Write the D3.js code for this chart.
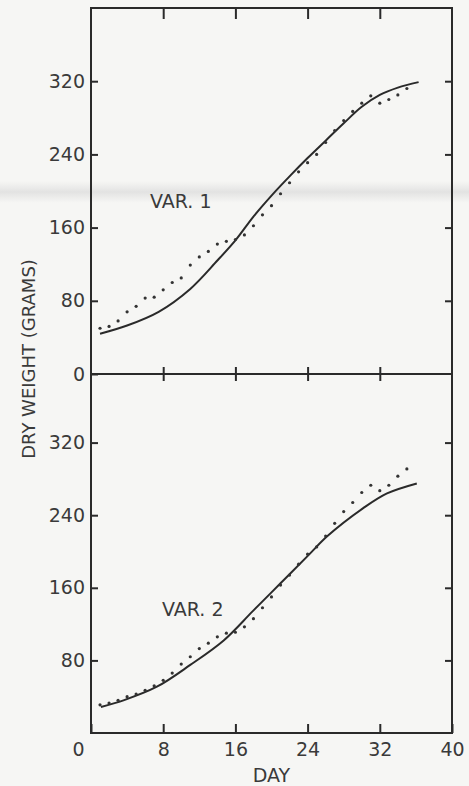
<!DOCTYPE html>
<html><head><meta charset="utf-8">
<script src="https://cdn.jsdelivr.net/npm/d3@7"></script>
<style>
body{margin:0;background:#f6f6f4;}
svg{display:block;}
text{font-family:"DejaVu Sans",Arial,sans-serif;fill:#3a3a3a;}
</style>
</head><body>
<svg id="c" width="469" height="786"></svg>
<script>
// ---- data ----
const dotDays = [1,2,3,4,5,6,7,8,9,10,11,12,13,14,15,16,17,18,19,20,21,22,23,24,25,26,27,28,29,30,31,32,33,34,35];
const var1Dots = [50,52,58,68,74,83,84,92,100,105,119,128,134,142,145,147,152,162,174,184,197,209,221,231,240,253,266,277,287,296,304,296,300,305,312];
const var2Dots = [31,33,36,40,43,47,52,58,66,76,84,93,99,106,110,111,117,126,138,150,163,174,186,197,205,217,231,244,254,265,273,267,273,283,291];
const var1CurveDays = [1,4,7.5,11,14,16,18,20,22,24,26,28,30,32,34,36.3];
const var1CurveVals = [44,53,68,93,124,146,172,195,216,236,255,274,292,305,313,319];
const var2CurveDays = [1.1,3.6,7.3,11,14.7,17.9,21,24.1,26.2,30.2,32.8,36.1];
const var2CurveVals = [28.7,36,51,75,102,134,165,196,217,248,264,275];
const xTicks = [0,8,16,24,32,40];
const xInnerTicks = [8,16,24,32];
const yTicksTop = [0,80,160,240,320];
const yTicksBottom = [80,160,240,320];
const panelLabels = ["VAR. 1","VAR. 2"];
const xTitle = "DAY";
const yTitle = "DRY WEIGHT (GRAMS)";

// ---- layout ----
const svg = d3.select("#c");
const x = d3.scaleLinear().domain([0,40]).range([91,452]);
const yTop = d3.scaleLinear().domain([0,400]).range([374,8]);
const yBot = d3.scaleLinear().domain([0,400]).range([733,370]);
const FONT = "'DejaVu Sans',Arial,sans-serif";

// faint scan band
const defs = svg.append("defs");
const g = defs.append("linearGradient").attr("id","band").attr("x1",0).attr("x2",0).attr("y1",0).attr("y2",1);
g.append("stop").attr("offset","0%").attr("stop-color","#ddd").attr("stop-opacity",0);
g.append("stop").attr("offset","50%").attr("stop-color","#dadada").attr("stop-opacity",0.7);
g.append("stop").attr("offset","100%").attr("stop-color","#ddd").attr("stop-opacity",0);
svg.append("rect").attr("x",0).attr("width",469).attr("y",181).attr("height",22).attr("fill","url(#band)");

const ink = "#2a2a2a";

function styleAxis(sel){
  sel.select(".domain").remove();
  sel.selectAll(".tick line").attr("stroke",ink).attr("stroke-width",2);
  sel.selectAll(".tick text").attr("fill","#3a3a3a").style("font-size","19px").style("font-family",FONT);
}

// top panel axes
svg.append("g").attr("transform",`translate(${x(0)},0)`)
  .call(d3.axisLeft(yTop).tickValues(yTicksTop).tickSize(-7).tickPadding(6)).call(styleAxis);
svg.append("g").attr("transform",`translate(${x(40)},0)`)
  .call(d3.axisRight(yTop).tickValues(yTicksBottom).tickSize(-7).tickFormat("")).call(styleAxis);
svg.append("g").attr("transform",`translate(0,${yTop(400)})`)
  .call(d3.axisTop(x).tickValues(xInnerTicks).tickSize(-11).tickFormat("")).call(styleAxis);
svg.append("g").attr("transform",`translate(0,${yTop(0)})`)
  .call(d3.axisBottom(x).tickValues(xInnerTicks).tickSize(-7).tickFormat("")).call(styleAxis);

// bottom panel axes
svg.append("g").attr("transform",`translate(${x(0)},0)`)
  .call(d3.axisLeft(yBot).tickValues(yTicksBottom).tickSize(-7).tickPadding(6)).call(styleAxis);
svg.append("g").attr("transform",`translate(${x(40)},0)`)
  .call(d3.axisRight(yBot).tickValues(yTicksBottom).tickSize(-7).tickFormat("")).call(styleAxis);
svg.append("g").attr("transform",`translate(0,${yTop(0)})`)
  .call(d3.axisTop(x).tickValues(xInnerTicks).tickSize(-7).tickFormat("")).call(styleAxis);
const xb = svg.append("g").attr("transform",`translate(0,${yBot(0)})`)
  .call(d3.axisBottom(x).tickValues(xTicks).tickSize(-9).tickPadding(10)).call(styleAxis);
xb.selectAll(".tick").filter(d=>d===0).select("text").attr("dx",-13);

// frame
svg.append("rect").attr("x",x(0)).attr("y",yTop(400)).attr("width",x(40)-x(0)).attr("height",yBot(0)-yTop(400))
  .attr("fill","none").attr("stroke",ink).attr("stroke-width",2);
svg.append("line").attr("x1",x(0)).attr("x2",x(40)).attr("y1",yTop(0)).attr("y2",yTop(0))
  .attr("stroke",ink).attr("stroke-width",2);

// curves
const line = (ys)=>d3.line().x(d=>x(d[0])).y(d=>ys(d[1])).curve(d3.curveCatmullRom.alpha(0.5));
svg.append("path").datum(d3.zip(var1CurveDays,var1CurveVals)).attr("d",line(yTop))
  .attr("fill","none").attr("stroke",ink).attr("stroke-width",2);
svg.append("path").datum(d3.zip(var2CurveDays,var2CurveVals)).attr("d",line(yBot))
  .attr("fill","none").attr("stroke",ink).attr("stroke-width",2);

// dots
svg.append("g").selectAll("circle").data(d3.zip(dotDays,var1Dots)).join("circle")
  .attr("cx",d=>x(d[0])).attr("cy",d=>yTop(d[1])).attr("r",1.6).attr("fill","#333");
svg.append("g").selectAll("circle").data(d3.zip(dotDays,var2Dots)).join("circle")
  .attr("cx",d=>x(d[0])).attr("cy",d=>yBot(d[1])).attr("r",1.6).attr("fill","#333");

// labels
svg.append("text").attr("x",150).attr("y",208).style("font-size","19px").text(panelLabels[0]);
svg.append("text").attr("x",162).attr("y",616).style("font-size","19px").text(panelLabels[1]);
svg.append("text").attr("x",x(20)).attr("y",782).attr("text-anchor","middle").style("font-size","19px").text(xTitle);
svg.append("text").attr("transform",`translate(35,359) rotate(-90)`).attr("text-anchor","middle")
  .style("font-size","18px").text(yTitle);
</script>
</body></html>
